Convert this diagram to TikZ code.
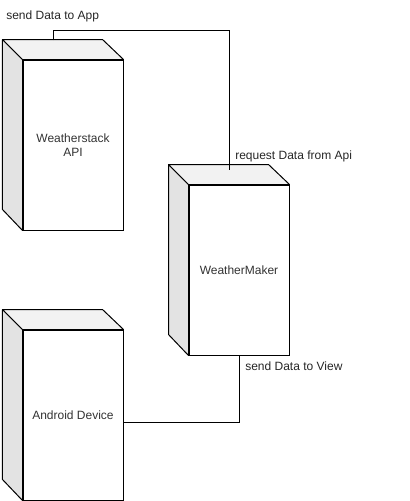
\documentclass[tikz,border=0pt]{standalone}
\usepackage{fontspec}
\setmainfont{Liberation Sans}
\begin{document}
\begin{tikzpicture}[x=0.75pt,y=-0.75pt,
  face/.style={draw=black,line width=0.75pt,fill=white,minimum width=75pt,minimum height=127.5pt,inner sep=0pt,align=center,font=\fontsize{9pt}{10.5pt}\selectfont,text=black!80},
  sideface/.style={draw=black,line width=0.75pt,fill=black!11,line join=round},
  topface/.style={draw=black,line width=0.75pt,fill=black!5,line join=round},
  conn/.style={draw=black,line width=0.75pt},
  lbl/.style={font=\fontsize{9pt}{10.5pt}\selectfont,inner sep=0pt,anchor=west,text=black!85}]
\useasboundingbox (0,0) rectangle (410,501);
\newcommand\mycube[4]{%
  \node[face] (#1) at (#2,#3) {#4};
  \draw[sideface] (#1.north west) -- ++(-20,-20) -- ++(0,170) -- (#1.south west) -- cycle;
  \draw[topface] (#1.north west) -- ++(-20,-20) -- ++(100,0) -- (#1.north east) -- cycle;
}
\mycube{ws}{73}{145}{Weatherstack\\API}
\mycube{wm}{239}{270}{WeatherMaker}
\mycube{ad}{73}{415}{Android Device}
\coordinate (wsTop) at (53,40);
\coordinate (wmTop) at (229,170);
\coordinate (adR) at (123,422);
\draw[conn] (wsTop) -- ++(0,-10) -| (wmTop);
\draw[conn] (wm.south) |- (adR);
\node[lbl] (l1) at (6,16) {send Data to App};
\node[lbl] (l2) at (235,156) {request Data from Api};
\node[lbl] (l3) at (245,366) {send Data to View};
\end{tikzpicture}
\end{document}
